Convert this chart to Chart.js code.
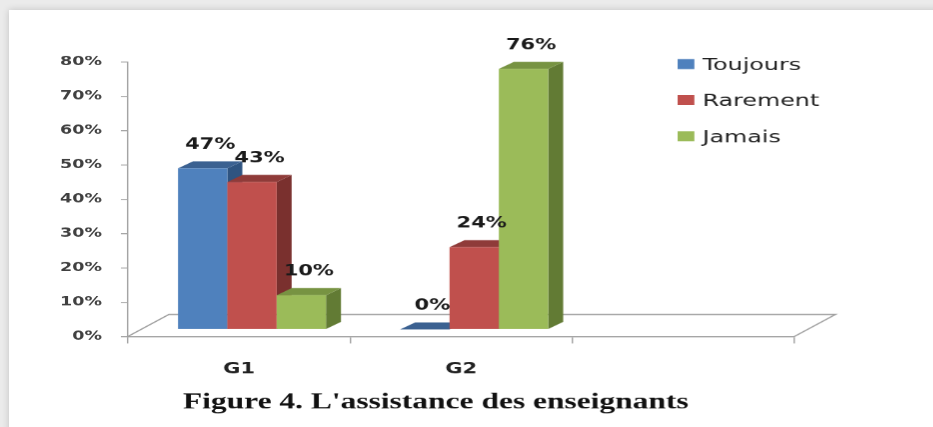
<!DOCTYPE html>
<html><head><meta charset="utf-8">
<script src="https://cdn.jsdelivr.net/npm/chart.js@4.4.1/dist/chart.umd.min.js"></script>
<style>
html,body{margin:0;padding:0;background:#ebebeb;width:933px;height:427px;overflow:hidden;}
#panel{position:absolute;left:9px;top:10px;width:940px;height:430px;background:#fff;box-shadow:0 0 7px rgba(0,0,0,0.18);}
#wrap{position:absolute;left:0;top:0;width:666.43px;height:427px;transform:scaleX(1.4);transform-origin:0 0;}
</style></head><body>
<div id="panel"></div>
<div id="wrap"><canvas id="c"></canvas></div>
<script>
// ---- data ----
const categories = ['G1', 'G2', ''];
const seriesNames = ['Toujours', 'Rarement', 'Jamais'];
const toujours = [47, 0, null];
const rarement = [43, 24, null];
const jamais = [10, 76, null];
const yTicks = [0, 10, 20, 30, 40, 50, 60, 70, 80];
const captionText = "Figure 4. L'assistance des enseignants";

// ---- styles ----
const S = 1.4; // horizontal stretch of the original picture
const palette = [
  {front: '#4F81BD', top: '#3B6191', side: '#2F5481'},
  {front: '#C0504D', top: '#8F3B39', side: '#7A302E'},
  {front: '#9BBB59', top: '#779342', side: '#627B34'}
];
const FRONT_SHIFT = {x: 13 / S, y: -7};
const DEPTH = {x: 15 / S, y: -7};
const FLOOR = {x: 41 / S, y: -22};
const AXIS_GRAY = '#a0a0a0';
const FONT = '"DejaVu Sans", Verdana, sans-serif';
const W = 933 / S;
const Y_AXIS_X = 128 / S;
const X_AXIS_END = 795 / S;
const CAPTION_CENTER = 436 / S;

function poly(ctx, pts, color) {
  ctx.beginPath();
  ctx.moveTo(pts[0][0], pts[0][1]);
  for (let k = 1; k < pts.length; k++) ctx.lineTo(pts[k][0], pts[k][1]);
  ctx.closePath();
  ctx.fillStyle = color;
  ctx.fill();
}

const bars3d = {
  id: 'bars3d',
  afterLayout(chart) {
    const tb = chart.titleBlock;
    if (tb) { tb.left = 0; tb.right = 2 * CAPTION_CENTER; }
  },
  beforeDatasetsDraw(chart) {
    const ctx = chart.ctx;
    const xs = chart.scales.x, ys = chart.scales.y;
    const y0 = ys.getPixelForValue(0);
    ctx.save();
    // floor (back part)
    ctx.strokeStyle = AXIS_GRAY;
    ctx.lineWidth = 1.2;
    ctx.beginPath();
    ctx.moveTo(xs.left, y0);
    ctx.lineTo(xs.left + FLOOR.x, y0 + FLOOR.y);
    ctx.lineTo(xs.right + FLOOR.x, y0 + FLOOR.y);
    ctx.lineTo(xs.right, y0);
    ctx.stroke();

    const ds = chart.data.datasets;
    const labels = [];
    for (let j = 0; j < categories.length; j++) {
      ds.forEach((d, i) => {
        const v = d.data[j];
        const el = chart.getDatasetMeta(i).data[j];
        if (v === null || v === undefined || !el) return;
        const p = el.getProps(['x', 'y', 'base', 'width'], true);
        const l = p.x - p.width / 2 + FRONT_SHIFT.x, r = p.x + p.width / 2 + FRONT_SHIFT.x;
        const t = p.y + FRONT_SHIFT.y, b = p.base + FRONT_SHIFT.y;
        const c = palette[i];
        poly(ctx, [[r, b], [r + DEPTH.x, b + DEPTH.y], [r + DEPTH.x, t + DEPTH.y], [r, t]], c.side);
        poly(ctx, [[l, t], [l + DEPTH.x, t + DEPTH.y], [r + DEPTH.x, t + DEPTH.y], [r, t]], c.top);
        ctx.fillStyle = c.front;
        ctx.fillRect(l, t, r - l, b - t);
        labels.push({text: v + '%', x: (l + r) / 2 + DEPTH.x / 2, y: t + DEPTH.y - 12.5});
      });
    }
    ctx.font = 'bold 15px ' + FONT;
    ctx.fillStyle = '#1a1a1a';
    ctx.textAlign = 'center';
    ctx.textBaseline = 'alphabetic';
    labels.forEach(o => ctx.fillText(o.text, o.x, o.y));
    ctx.restore();
    return false;
  },
  afterDraw(chart) {
    const ctx = chart.ctx;
    const lg = chart.options.plugins.bars3d;
    ctx.save();
    ctx.font = '17px ' + FONT;
    ctx.textAlign = 'left';
    ctx.textBaseline = 'alphabetic';
    chart.data.datasets.forEach((d, i) => {
      const cy = lg.firstRow + i * lg.rowGap;
      ctx.fillStyle = d.backgroundColor;
      ctx.fillRect(lg.boxX, cy - lg.boxH / 2, lg.boxW, lg.boxH);
      ctx.fillStyle = '#222';
      ctx.fillText(d.label, lg.textX, cy + 6);
    });
    ctx.restore();
  }
};

new Chart(document.getElementById('c'), {
  type: 'bar',
  data: {
    labels: categories,
    datasets: [
      {label: seriesNames[0], data: toujours, backgroundColor: palette[0].front},
      {label: seriesNames[1], data: rarement, backgroundColor: palette[1].front},
      {label: seriesNames[2], data: jamais, backgroundColor: palette[2].front}
    ]
  },
  plugins: [bars3d],
  options: {
    responsive: true,
    maintainAspectRatio: false,
    devicePixelRatio: 1.4,
    animation: false,
    events: [],
    datasets: {bar: {barPercentage: 1, categoryPercentage: 0.666}},
    layout: {padding: {left: 0, right: W - X_AXIS_END, top: 62, bottom: 0}},
    scales: {
      x: {
        afterFit: s => { s.height = 52.5; },
        ticks: {font: {family: FONT, weight: 'bold', size: 15}, color: '#222', padding: 17},
        grid: {drawOnChartArea: false, tickLength: 7, color: AXIS_GRAY, offset: true},
        border: {color: AXIS_GRAY, width: 1}
      },
      y: {
        min: 0, max: 80,
        afterBuildTicks: s => { s.ticks = yTicks.map(v => ({value: v})); },
        afterFit: s => { s.width = Y_AXIS_X; },
        ticks: {callback: v => v + '%', font: {family: FONT, weight: 'bold', size: 12.5}, color: '#404040', padding: 13.6},
        grid: {drawOnChartArea: false, tickLength: 5, color: AXIS_GRAY},
        border: {color: AXIS_GRAY, width: 1}
      }
    },
    plugins: {
      legend: {display: false},
      tooltip: {enabled: false},
      title: {
        display: true, position: 'bottom', text: captionText,
        font: {family: '"Liberation Serif", "Times New Roman", serif', weight: 'bold', size: 22.5},
        color: '#111', padding: {top: 0, bottom: 11.5}
      },
      bars3d: {boxX: 678 / S, boxW: 12, boxH: 10, textX: 703 / S, firstRow: 64, rowGap: 36}
    }
  }
});
</script>
</body></html>
